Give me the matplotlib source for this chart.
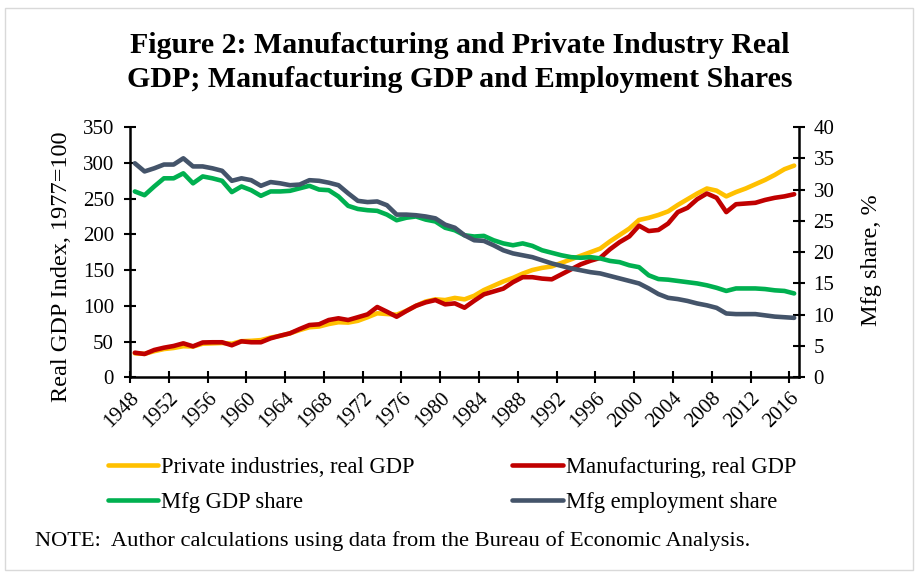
import matplotlib
matplotlib.use("Agg")
import matplotlib.pyplot as plt
import numpy as np
from matplotlib.patches import Rectangle

plt.rcParams['font.family'] = ['Liberation Serif', 'DejaVu Serif']

years = list(range(1948, 2017))

private_gdp = [33.5, 32.8, 36.5, 39.5, 41.0, 43.5, 43.0, 47.0, 47.5, 48.0,
               47.0, 50.5, 51.0, 52.0, 55.5, 58.0, 61.5, 66.0, 70.0, 71.0,
               74.5, 77.0, 76.5, 79.0, 84.0, 89.5, 88.5, 87.5, 93.0, 100.0,
               106.0, 109.0, 108.0, 111.0, 109.0, 114.0, 122.0, 128.0, 134.0, 139.0,
               145.0, 150.0, 153.0, 155.0, 160.0, 165.0, 170.0, 175.0, 180.0, 190.0,
               199.0, 208.0, 220.0, 223.0, 227.0, 232.0, 241.0, 249.0, 257.0, 264.0,
               261.0, 253.0, 259.0, 264.0, 270.0, 276.0, 283.0, 291.0, 296.0]

mfg_gdp = [34.4, 32.6, 38.2, 41.4, 43.8, 47.5, 43.3, 48.7, 49.0, 49.0,
           44.8, 50.3, 49.0, 49.0, 54.5, 58.2, 61.5, 67.5, 73.1, 74.1,
           80.1, 82.5, 80.1, 84.0, 88.0, 98.3, 91.7, 84.7, 92.7, 100.0,
           104.8, 108.0, 102.0, 103.4, 97.3, 107.0, 116.0, 120.0, 124.0, 133.0,
           140.0, 140.0, 138.0, 137.0, 144.0, 151.0, 158.0, 163.0, 167.0, 179.0,
           189.0, 197.0, 212.0, 204.5, 206.0, 215.0, 231.0, 237.0, 249.0, 257.0,
           251.0, 231.0, 242.0, 243.0, 244.0, 248.0, 251.0, 253.0, 256.0]

mfg_gdp_share = [29.7, 29.1, 30.5, 31.8, 31.8, 32.6, 31.0, 32.1, 31.8, 31.4,
                 29.6, 30.5, 29.9, 29.0, 29.7, 29.7, 29.8, 30.2, 30.6, 30.0,
                 29.9, 28.9, 27.4, 26.9, 26.7, 26.6, 26.0, 25.1, 25.5, 25.7,
                 25.2, 24.9, 23.9, 23.5, 22.7, 22.5, 22.6, 21.9, 21.4, 21.1,
                 21.4, 21.0, 20.3, 19.9, 19.5, 19.2, 19.1, 19.2, 19.0, 18.6,
                 18.4, 17.9, 17.6, 16.3, 15.7, 15.6, 15.4, 15.2, 15.0, 14.7,
                 14.3, 13.8, 14.2, 14.2, 14.2, 14.1, 13.9, 13.8, 13.4]

mfg_emp_share = [34.2, 32.9, 33.4, 34.0, 34.0, 35.0, 33.7, 33.7, 33.4, 33.0,
                 31.4, 31.8, 31.5, 30.6, 31.2, 31.0, 30.7, 30.8, 31.5, 31.4,
                 31.1, 30.7, 29.4, 28.2, 28.0, 28.1, 27.5, 26.0, 26.0, 25.9,
                 25.7, 25.4, 24.4, 23.9, 22.7, 21.9, 21.8, 21.1, 20.3, 19.8,
                 19.5, 19.2, 18.7, 18.2, 17.8, 17.4, 17.1, 16.8, 16.6, 16.2,
                 15.8, 15.4, 15.0, 14.2, 13.3, 12.7, 12.5, 12.2, 11.8, 11.5,
                 11.1, 10.2, 10.1, 10.1, 10.1, 9.9, 9.7, 9.6, 9.5]

tick_years = list(range(1948, 2017, 4))
left_ticks = list(range(0, 351, 50))
right_ticks = list(range(0, 41, 5))

c_private = '#FFC000'
c_mfg = '#C00000'
c_share = '#00B050'
c_emp = '#44546A'

fig = plt.figure(figsize=(9.18, 5.77), dpi=100)
ax = fig.add_axes([130/918, 1-377.3/577, (799-130)/918, (377.3-127)/577])
ax2 = ax.twinx()

x = np.array(years) + 0.5
lw = 3.3
l1, = ax.plot(x, private_gdp, color=c_private, lw=lw, solid_capstyle='round', label='Private industries, real GDP', zorder=3)
l2, = ax.plot(x, mfg_gdp, color=c_mfg, lw=lw, solid_capstyle='round', label='Manufacturing, real GDP', zorder=4)
l3, = ax2.plot(x, mfg_gdp_share, color=c_share, lw=lw, solid_capstyle='round', label='Mfg GDP share', zorder=3)
l4, = ax2.plot(x, mfg_emp_share, color=c_emp, lw=lw, solid_capstyle='round', label='Mfg employment share', zorder=4)

ax.set_xlim(1948, 2017)
ax.set_ylim(0, 350)
ax2.set_ylim(0, 40)
ax.set_yticks(left_ticks)
ax2.set_yticks(right_ticks)
ax.set_xticks(tick_years)
ax.set_xticklabels([str(y) for y in tick_years], rotation=45, ha='right', rotation_mode='anchor')

fs = 15
for a in (ax, ax2):
    for s in a.spines.values():
        s.set_linewidth(1.8)
    a.spines['top'].set_visible(False)
ax.spines['right'].set_visible(False)
ax2.spines['left'].set_visible(False)
ax2.spines['bottom'].set_visible(False)

ax.tick_params(axis='both', direction='inout', length=9, width=1.5, labelsize=fs, colors='black')
ax.tick_params(axis='y', pad=7)
ax.tick_params(axis='x', pad=4)
ax2.tick_params(axis='y', direction='inout', length=9, width=1.5, labelsize=fs, pad=6)

ax.set_ylabel('Real GDP Index, 1977=100', fontsize=17.5)
ax.yaxis.set_label_coords(-0.087, 0.44)
ax2.set_ylabel('Mfg share, %', fontsize=17.5)
ax2.yaxis.set_label_coords(1.0925, 0.47)

fig.text(0.501, 1 - 62.5/577, 'Figure 2: Manufacturing and Private Industry Real\nGDP; Manufacturing GDP and Employment Shares',
         ha='center', va='center', fontsize=21.5, fontweight='bold', linespacing=1.3)

fig.legend([l1, l3, l2, l4], [l1.get_label(), l3.get_label(), l2.get_label(), l4.get_label()],
           ncol=2, loc='center', bbox_to_anchor=(452/918, 1 - 485/577), frameon=False,
           fontsize=16.3, handlelength=2.25, handletextpad=0.13, columnspacing=4.3,
           labelspacing=0.6, borderpad=0)

fig.text(35/918, 1 - 541/577, 'NOTE:  Author calculations using data from the Bureau of Economic Analysis.',
         ha='left', va='center', fontsize=16.2)

fig.patches.append(Rectangle((5/918, 1 - 570/577), 908/918, 562/577, transform=fig.transFigure,
                             fill=False, edgecolor='#D9D9D9', linewidth=1))

fig.savefig('out.png', dpi=100)
